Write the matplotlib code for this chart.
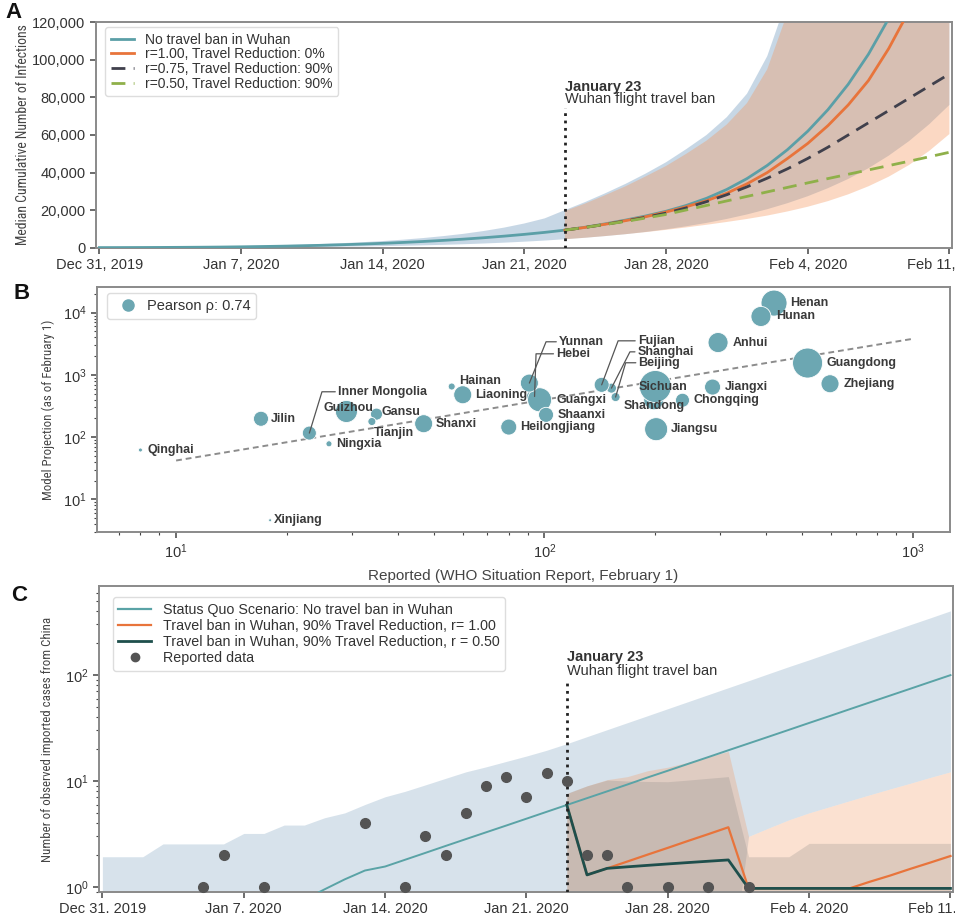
import matplotlib
matplotlib.use("Agg")
import matplotlib.pyplot as plt
import matplotlib.dates as mdates
import matplotlib.ticker as mticker
import matplotlib.font_manager as fm
from matplotlib.lines import Line2D
import numpy as np
import pandas as pd

plt.rcParams['font.family'] = ['Liberation Sans', 'DejaVu Sans']
plt.rcParams['mathtext.fontset'] = 'custom'
plt.rcParams['mathtext.rm'] = 'Liberation Sans'

START = pd.Timestamp('2019-12-31')
END = pd.Timestamp('2020-02-11')
BAN = pd.Timestamp('2020-01-23')
DAYS = pd.date_range(START, END, freq='D')          # 43 days
DAYS_BAN = pd.date_range(BAN, END, freq='D')        # 20 days

# ---------------- panel A: cumulative infections ----------------
a_no_ban = [50, 70, 100, 140, 190, 260, 350, 470, 620, 800, 1020, 1280, 1580, 1930,
            2330, 2790, 3310, 3900, 4560, 5300, 6150, 7100, 8150, 9350, 10900, 12700,
            14700, 16900, 19400, 22500, 26300, 31000, 36800, 43800, 52200, 62000,
            73500, 87000, 103000, 122000, 144000, 170000, 200000]
a_no_ban_hi = [150, 200, 260, 340, 440, 560, 700, 870, 1080, 1330, 1630, 1990, 2420,
               2930, 3540, 4270, 5140, 6180, 7400, 8900, 10700, 12900, 15600, 20000,
               24300, 29000, 34000, 39500, 45500, 52500, 60000, 69500, 82000, 102000,
               133000, 170000, 215000, 270000, 340000, 430000, 540000, 680000, 860000]
a_no_ban_lo = [20, 30, 40, 55, 75, 100, 130, 170, 220, 280, 350, 440, 550, 680, 840,
               1030, 1260, 1530, 1850, 2230, 2680, 3200, 3800, 4500, 5300, 6200, 7200,
               8400, 9800, 11400, 13200, 15300, 17700, 20500, 23700, 27400, 31700,
               36600, 42300, 49000, 56700, 65700, 76000]
a_r100 = [9350, 10800, 12500, 14400, 16500, 19000, 21800, 25000, 29000, 34000, 40000,
          47500, 55500, 65000, 76000, 89000, 106000, 126000, 148000, 173000]
a_r100_hi = [19500, 23500, 28000, 32700, 38000, 43500, 50000, 57000, 65600, 77000,
             95000, 125000, 160000, 205000, 260000, 330000, 420000, 530000, 670000, 850000]
a_r100_lo = [4500, 5300, 6200, 7200, 8300, 9500, 10800, 12200, 13700, 15300, 17100,
             19300, 21800, 24800, 28400, 32700, 37800, 44000, 51500, 60500]
a_r075 = [9350, 10800, 12400, 14200, 16200, 18400, 21200, 24500, 28200, 32400, 37000,
          42000, 47500, 53500, 60000, 66500, 73000, 79500, 86000, 92500]
a_r050 = [9350, 10800, 12400, 14000, 15800, 17700, 20100, 22500, 24900, 27300, 29700,
          32100, 34500, 36800, 39100, 41400, 43700, 46000, 48400, 50800]

# ---------------- panel B: model vs reported ----------------
provinces = ['Shandong', 'Sichuan', 'Henan', 'Hunan', 'Anhui', 'Guangdong', 'Zhejiang',
             'Jiangxi', 'Chongqing', 'Jiangsu', 'Beijing', 'Shanghai', 'Fujian', 'Hebei',
             'Guangxi', 'Yunnan', 'Shaanxi', 'Heilongjiang', 'Liaoning', 'Hainan',
             'Shanxi', 'Gansu', 'Tianjin', 'Guizhou', 'Ningxia', 'Inner Mongolia',
             'Jilin', 'Xinjiang', 'Qinghai']
reported = [198, 200, 420, 387, 296, 518, 596, 286, 237, 201, 156, 152, 143, 94,
            97, 91, 101, 80, 60, 56, 47, 35, 34, 29, 26, 23, 17, 18, 8]
projected = [398, 650, 14260, 8690, 3310, 1550, 720, 637, 391, 134, 440, 612, 692, 449,
             398, 738, 228, 145, 479, 650, 164, 234, 178, 258, 78, 116, 197, 4.6, 62]
bubble = [10, 16, 13, 10, 10, 15, 9, 8, 7, 11.5, 4.5, 5, 7.5, 8,
          12, 9, 7.5, 8, 9, 3.5, 9, 6, 4, 11, 3, 7, 7.5, 1.5, 2]
trend_x = [10, 1000]
trend_y = [42, 3800]

# ---------------- panel C: imported cases ----------------
c_rep_dates = pd.to_datetime(['2020-01-05', '2020-01-06', '2020-01-08', '2020-01-13',
                              '2020-01-15', '2020-01-16', '2020-01-17', '2020-01-18',
                              '2020-01-19', '2020-01-20', '2020-01-21', '2020-01-22',
                              '2020-01-23', '2020-01-24', '2020-01-25', '2020-01-26',
                              '2020-01-28', '2020-01-30', '2020-02-01'])
c_reported = [1, 2, 1, 4, 1, 3, 2, 5, 9, 11, 7, 12, 10, 2, 2, 1, 1, 1, 1]
DAYS_SQ = pd.date_range('2020-01-10', END, freq='D')
c_sq = [0.76, 0.95, 1.18, 1.43, 1.56, 1.81, 2.10, 2.44, 2.83, 3.28, 3.80, 4.41, 5.12,
        5.94, 6.89, 7.99, 9.27, 10.8, 12.5, 14.5, 16.8, 19.5, 22.6, 26.2, 30.4, 35.3,
        40.9, 47.5, 55.1, 63.9, 74.1, 86.0, 99.7]
c_sq_hi = [1.93, 1.93, 1.93, 2.55, 2.55, 2.55, 2.55, 3.2, 3.2, 3.84, 3.84, 4.5, 5.0,
           6.0, 7.1, 8.0, 9.2, 10.6, 12.2, 13.6, 15.3, 17.2, 19.5, 22.5, 26.2, 30.5,
           35.5, 41.3, 48.1, 56.0, 65.2, 75.9, 88.3, 103, 120, 139, 162, 189, 220, 256,
           298, 346, 403]
c_sq_lo_late = [3.0, 3.6, 4.3, 5.0, 5.7, 6.5, 7.4, 8.4, 9.5, 10.8, 12.2]   # Feb 1 - Feb 11
c_r100 = [5.94, 1.3, 1.5, 1.74, 2.02, 2.34, 2.72, 3.15, 3.66, 0.97, 0.97, 0.97, 0.97,
          0.97, 0.97, 1.12, 1.28, 1.48, 1.70, 1.96]
c_r100_hi = [7.6, 9.0, 10.3, 11.0, 12.5, 13.5, 15.0, 17.0, 19.0, 3.0, 3.6, 4.3, 5.0,
             5.7, 6.5, 7.4, 8.4, 9.5, 10.8, 12.2]
c_r050 = [5.94, 1.3, 1.5, 1.55, 1.6, 1.65, 1.7, 1.75, 1.8, 0.97, 0.97, 0.97, 0.97,
          0.97, 0.97, 0.97, 0.97, 0.97, 0.97, 0.97]
c_r050_hi = [7.65, 9.0, 10.2, 10.0, 9.9, 9.85, 10.2, 10.6, 11.0, 1.93, 1.93, 1.93,
             2.58, 2.58, 2.58, 2.58, 2.58, 2.58, 2.58, 2.58]

# ---------------- styles ----------------
TEAL = '#5b9fa7'
ORANGE = '#e8743b'
DARK = '#40404c'
GREEN = '#8fb04a'
DARKTEAL = '#1e4f4c'
BLUE_BAND = '#487dac'
ORANGE_BAND = '#f4955b'
GRAY_BAND = '#7a7a7a'
BUBBLE = '#6ca7b2'
SPINE = '#8a8a8a'
TXT = '#333333'
FLOOR = 0.1


def narrow_font():
    # y labels in the reference use a condensed face; take one if installed
    pref = ['Roboto Condensed', 'Liberation Sans Narrow', 'Open Sans Condensed',
            'Noto Sans Condensed', 'DejaVu Sans Condensed']
    fonts = fm.fontManager.ttflist
    for name in pref:
        for f in fonts:
            if f.name == name and f.style == 'normal' and f.weight in (400, 'normal', 'regular'):
                return fm.FontProperties(fname=f.fname)
    for f in fonts:
        if (f.stretch in ('condensed', 'semi-condensed') and f.style == 'normal'
                and f.weight in (400, 'normal', 'regular')):
            return fm.FontProperties(fname=f.fname)
    return fm.FontProperties(family='Liberation Sans')


NARROW = narrow_font()

fig = plt.figure(figsize=(9.55, 9.13), dpi=100)
axa = fig.add_axes([0.1005, 0.7287, 0.8963, 0.2469])
axb = fig.add_axes([0.1016, 0.4173, 0.8932, 0.2684])
axc = fig.add_axes([0.1037, 0.0230, 0.8942, 0.3352])


def frame(ax):
    for s in ax.spines.values():
        s.set_color(SPINE)
        s.set_linewidth(1.4)
    ax.tick_params(which='both', direction='out', color='#444', labelcolor=TXT,
                   labelsize=10.5, top=False, right=False)
    ax.tick_params(which='major', length=4, width=1.1)
    ax.tick_params(which='minor', length=2.5, width=0.8)


def date_axis(ax):
    ax.set_xlim(START - pd.Timedelta(hours=4), END + pd.Timedelta(hours=3))
    ax.set_xticks(pd.date_range(START, END, freq='7D'))
    ax.xaxis.set_major_formatter(mdates.DateFormatter('%b %-d, %Y'))


def ban_marker(ax, top, y1, y2):
    ax.axvline(BAN, ymin=0, ymax=top, color='#222', ls=':', lw=2, zorder=4)
    tr = ax.get_xaxis_transform()
    ax.text(BAN, y1, 'January 23', transform=tr, fontsize=10.5, fontweight='bold',
            color=TXT, va='baseline', ha='left')
    ax.text(BAN, y2, 'Wuhan flight travel ban', transform=tr, fontsize=10.5,
            color=TXT, va='baseline', ha='left')


def fit_ylabel(ax, text, length_px, pad):
    fp = NARROW.copy()
    fp.set_size(11)
    lab = ax.set_ylabel(text, fontproperties=fp, color='#444', labelpad=pad)
    fig.canvas.draw()
    h = lab.get_window_extent().height
    fp.set_size(11 * length_px / h)
    lab.set_fontproperties(fp)


# ---- A ----
frame(axa)
axa.fill_between(DAYS, a_no_ban_lo, a_no_ban_hi, color=BLUE_BAND, alpha=0.3, lw=0)
axa.fill_between(DAYS_BAN, a_r100_lo, a_r100_hi, color=ORANGE_BAND, alpha=0.36, lw=0)
axa.plot(DAYS, a_no_ban, color=TEAL, lw=2, label='No travel ban in Wuhan', zorder=3)
axa.plot(DAYS_BAN, a_r100, color=ORANGE, lw=2, label='r=1.00, Travel Reduction: 0%', zorder=3)
axa.plot(DAYS_BAN, a_r075, color=DARK, lw=2, ls=(0, (5, 3)),
         label='r=0.75, Travel Reduction: 90%', zorder=3)
axa.plot(DAYS_BAN, a_r050, color=GREEN, lw=2, ls=(0, (5, 3)),
         label='r=0.50, Travel Reduction: 90%', zorder=3)
axa.set_ylim(0, 120000)
axa.yaxis.set_major_locator(mticker.MultipleLocator(20000))
axa.yaxis.set_major_formatter(mticker.StrMethodFormatter('{x:,.0f}'))
date_axis(axa)
ban_marker(axa, 0.62, 0.697, 0.642)
axa.legend(loc='upper left', bbox_to_anchor=(0.0105, 0.979), borderaxespad=0,
           fontsize=10, handlelength=1.7, labelspacing=0.05, borderpad=0.4,
           edgecolor='#dddddd', framealpha=1, labelcolor=TXT)

# ---- B ----
frame(axb)
axb.set_xscale('log')
axb.set_yscale('log')
axb.plot(trend_x, trend_y, color='#8c8c8c', lw=1.4, ls=(0, (3, 2)), zorder=1)
sizes = [(2 * r * 0.72) ** 2 for r in bubble]
axb.scatter(reported, projected, s=sizes, color=BUBBLE, edgecolor='white',
            linewidth=0.6, zorder=2)
axb.set_xlim(6.1, 1262)
axb.set_ylim(2.98, 25900)
axb.xaxis.set_minor_formatter(mticker.NullFormatter())
axb.yaxis.set_minor_formatter(mticker.NullFormatter())
axb.set_xlabel('Reported (WHO Situation Report, February 1)', fontsize=11,
               color='#444', labelpad=6)

# label offsets in pixels (dx, dy up)
label_off = {
    'Henan': (16, 0), 'Hunan': (15, 0), 'Anhui': (14.6, 0), 'Guangdong': (18.7, 0),
    'Zhejiang': (13.3, 0), 'Jiangxi': (12, 0), 'Chongqing': (11.3, 0),
    'Sichuan': (-16.7, 0), 'Shandong': (-29.7, -6.7), 'Jiangsu': (15, 0),
    'Guangxi': (16.7, 0), 'Shaanxi': (11.6, 0), 'Heilongjiang': (11.6, 0),
    'Liaoning': (12.3, 0), 'Hainan': (7, 6), 'Shanxi': (12.3, 0), 'Gansu': (5, 2),
    'Tianjin': (2.3, -11.6), 'Guizhou': (-23, 3.7), 'Ningxia': (6.7, 0),
    'Jilin': (10, 0), 'Xinjiang': (4, 0), 'Qinghai': (6.7, 0),
}
leader_off = {
    'Inner Mongolia': (28.7, 41.3, 73), 'Yunnan': (29.7, 41.3, 68),
    'Hebei': (21.7, 42.7, 88), 'Fujian': (36.3, 44, 69.5),
    'Shanghai': (26.3, 36.3, 63), 'Beijing': (23, 34.3, 73.6),
}
PX = 0.72
lab_kw = dict(textcoords='offset points', ha='left', va='center', fontsize=9,
              fontweight='bold', color='#3a3a3a', zorder=5)
for name, x, y in zip(provinces, reported, projected):
    if name in leader_off:
        dx, dy, ang = leader_off[name]
        axb.annotate(name, (x, y), xytext=(dx * PX, dy * PX),
                     arrowprops=dict(arrowstyle='-', color='#555', lw=0.9,
                                     shrinkA=0, shrinkB=0, relpos=(0, 0.5),
                                     connectionstyle=f'angle,angleA=0,angleB={ang},rad=0'),
                     **lab_kw)
    else:
        dx, dy = label_off[name]
        axb.annotate(name, (x, y), xytext=(dx * PX, dy * PX), **lab_kw)

axb.legend(handles=[Line2D([], [], marker='o', ls='none', color=BUBBLE, markersize=8)],
           labels=['Pearson ρ: 0.74'], loc='upper left', bbox_to_anchor=(0.012, 0.976),
           borderaxespad=0, fontsize=10.5, handletextpad=0.3, edgecolor='#dddddd',
           framealpha=1, labelcolor=TXT)

# ---- C ----
frame(axc)
axc.set_yscale('log')
sq_lo = np.concatenate([np.full(len(DAYS) - len(c_sq_lo_late), FLOOR), c_sq_lo_late])
axc.fill_between(DAYS, sq_lo, c_sq_hi, color='#4a7fa6', alpha=0.22, lw=0)
axc.fill_between(DAYS_BAN, FLOOR, c_r100_hi, color=ORANGE_BAND, alpha=0.28, lw=0)
axc.fill_between(DAYS_BAN, FLOOR, c_r050_hi, color=GRAY_BAND, alpha=0.22, lw=0)
axc.plot(DAYS_SQ, c_sq, color='#5aa3a6', lw=1.4, zorder=3)
axc.plot(DAYS_BAN, c_r100, color=ORANGE, lw=1.6, zorder=3)
axc.plot(DAYS_BAN, c_r050, color=DARKTEAL, lw=2, zorder=3)
axc.plot(c_rep_dates, c_reported, 'o', color='#545454', markersize=7, zorder=6,
         clip_on=False)
axc.set_ylim(0.897, 692)
axc.yaxis.set_minor_formatter(mticker.NullFormatter())
date_axis(axc)
ban_marker(axc, 0.693, 0.755, 0.709)
handles = [Line2D([], [], color='#5aa3a6', lw=1.6), Line2D([], [], color=ORANGE, lw=1.6),
           Line2D([], [], color=DARKTEAL, lw=2),
           Line2D([], [], marker='o', ls='none', color='#545454', markersize=6)]
labels = ['Status Quo Scenario: No travel ban in Wuhan',
          'Travel ban in Wuhan, 90% Travel Reduction, r= 1.00',
          'Travel ban in Wuhan, 90% Travel Reduction, r = 0.50',
          'Reported data']
axc.legend(handles, labels, loc='upper left', bbox_to_anchor=(0.016, 0.964),
           borderaxespad=0, fontsize=10.3, handlelength=2.3, labelspacing=0.15,
           edgecolor='#dddddd', framealpha=1, labelcolor=TXT)

# condensed y labels sized to the reference lengths
fit_ylabel(axa, 'Median Cumulative Number of Infections', 222, 1.5)
fit_ylabel(axb, 'Model Projection (as of February 1)', 180, 6)
fit_ylabel(axc, 'Number of observed imported cases from China', 244, 8)

for letter, x, y in (('A', 0.006, 0.998), ('B', 0.014, 0.690), ('C', 0.012, 0.359)):
    fig.text(x, y, letter, fontsize=16, fontweight='bold', va='top', ha='left',
             color='#111')

fig.savefig('out.png', dpi=100)
